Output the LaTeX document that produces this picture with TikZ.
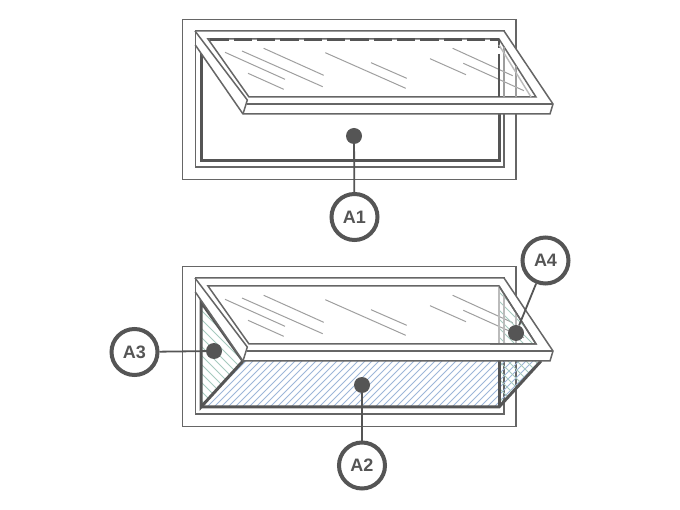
\documentclass[tikz,border=0pt]{standalone}
\usepackage{fontspec}
\setmainfont{Liberation Sans}
\definecolor{inkgrey}{HTML}{555555}
\definecolor{linegrey}{HTML}{666666}
\definecolor{palegrey}{HTML}{BBBBBB}
\definecolor{bluehatch}{HTML}{9DB6D8}
\definecolor{greenhatch}{HTML}{A6C9BE}
\tikzset{
  frameline/.style={draw=linegrey, line width=1.5pt},
  darkline/.style={draw=inkgrey, line width=3pt},
  paleline/.style={draw=palegrey, line width=1.4pt},
  scratch/.style={draw=palegrey!85!black, line width=1pt},
  hatchb/.style={draw=bluehatch, line width=1pt},
  hatchg/.style={draw=greenhatch, line width=1pt},
  callout/.style={circle, draw=inkgrey, line width=4pt, fill=white, minimum size=46pt,
    inner sep=0pt, text=inkgrey, font=\fontsize{18}{20}\selectfont\bfseries},
  pin/.style={circle, fill=inkgrey, minimum size=16pt, inner sep=0pt},
  leader/.style={draw=inkgrey, line width=1.8pt}
}
% frame rectangles of one window
\newcommand{\winframe}{
  \draw[frameline] (182.5,19.5) rectangle (516,179.5);
  \draw[frameline] (195.3,31) rectangle (504,167);
}
% open sash with glass hole, and the scratches on the glass
\newcommand{\winsash}{
  \fill[white, even odd rule] (195,31) -- (504,31) -- (553,104) -- (550,114) -- (243,114) -- (195.3,45) -- cycle
    (208,39) -- (499,39) -- (536,97) -- (249,97) -- cycle;
  \draw[frameline] (195,31) -- (504,31) -- (553,104) -- (550,114) -- (243,114) -- (195.3,45);
  \draw[frameline] (195,31) -- (247.3,100) -- (243,114);
  \draw[frameline] (247,104) -- (553,104);
  \draw[frameline] (208,39) -- (499,39) -- (536,97) -- (249,97) -- cycle;
  \draw[frameline] (195.3,31) -- (195.3,50);
  \draw[scratch] (225,52.3) -- (285,79.3)
    (242,51) -- (322.7,86.7)
    (263.7,48.3) -- (323.7,75.3)
    (248,73.3) -- (283.7,89.3)
    (325.3,52.7) -- (405.7,88.3)
    (371,62.7) -- (406.7,78.3)
    (430,58.7) -- (466,74.7)
    (452.7,48.3) -- (512.7,75.7)
    (463.3,63.3) -- (524,90.7);
}
\begin{document}
\begin{tikzpicture}[x=1pt,y=-1pt]
\useasboundingbox (0,0) rectangle (680,510);

% top window
\winframe
\draw[darkline] (201,53) -- (201,161) -- (499,161) -- (499,110);
\winsash
\draw[darkline, dash pattern=on 18.33pt off 5pt] (210.2,40) -- (499,40);
\draw[darkline, line width=2.4pt] (499,39) -- (499,48) (499,54) -- (499,97);
\draw[paleline] (504,47) -- (504,97)
  (516,66) -- (516,97)
  (499,45) -- (531,97);

% bottom window
\begin{scope}[shift={(0,247)}]
\winframe
% blue hatch of the bottom panel
\begin{scope}
\clip (201,160) -- (243,114) -- (541,114) -- (499,160) -- cycle;
\foreach \i in {0,...,52}
  \draw[hatchb] (195+\i*7,165) -- (255+\i*7,105);
\end{scope}
% green hatch of the left panel
\begin{scope}
\clip (201,55) -- (243,114) -- (201,160) -- cycle;
\foreach \i in {0,...,17}
  \draw[hatchg] (195,30+\i*9) -- (255,90+\i*9);
\end{scope}
% green hatch of the right panel
\begin{scope}
\clip (499,114) -- (541,114) -- (499,160) -- cycle;
\foreach \i in {0,...,14}
  \draw[hatchg] (490,60+\i*9) -- (550,120+\i*9);
\end{scope}
\draw[darkline] (201,55) -- (243,114) -- (201,160) -- cycle;
\draw[darkline] (201,160) -- (499,160) -- (541,114);
\draw[darkline] (499,160) -- (499,114);
\winsash
% green hatch seen through the glass
\begin{scope}
\clip (499,39) -- (536,97) -- (499,97) -- cycle;
\foreach \i in {0,...,10}
  \draw[hatchg] (490,0+\i*9) -- (550,60+\i*9);
\end{scope}
\draw[paleline, line width=2.4pt] (499,39) -- (499,97);
\draw[paleline] (504,47) -- (504,97)
  (516,66) -- (516,97);
\draw[frameline] (499,39) -- (536,97) -- (490,97);
\end{scope}

% pins
\node[pin] (pina1) at (354,136) {};
\node[pin] (pina2) at (362,385) {};
\node[pin] (pina3) at (214,351) {};
\node[pin] (pina4) at (516,333) {};

% callouts
\node[callout] (a1) at (354.5,217) {A1};
\node[callout] (a2) at (362,465.5) {A2};
\node[callout] (a3) at (134.5,352) {A3};
\node[callout] (a4) at (545.5,260.5) {A4};

% leaders
\draw[leader] (pina1) -- (a1);
\draw[leader] (pina2) -- (a2);
\draw[leader] (pina3) -- (a3);
\draw[leader] (pina4) -- (a4);
\end{tikzpicture}
\end{document}
